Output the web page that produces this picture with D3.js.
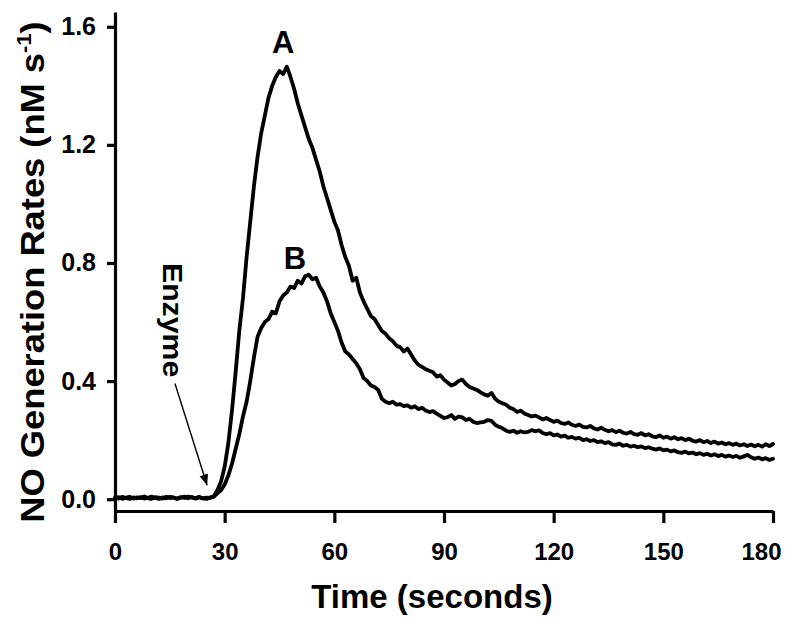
<!DOCTYPE html>
<html>
<head>
<meta charset="utf-8">
<script src="https://cdn.jsdelivr.net/npm/d3@7"></script>
<style>
  body { margin: 0; background: #fff; }
  text { font-family: "Liberation Sans", Arial, sans-serif; font-weight: bold; fill: #000; }
</style>
</head>
<body>
<div id="chart"></div>
<script>
// time axis, one reading per second
const xTicks = [0, 30, 60, 90, 120, 150, 180]
const yTicks = [0.0, 0.4, 0.8, 1.2, 1.6]

// trace A (nM/s), t = 0..180
const traceA = [
  0.005, 0.002, 0.008, 0.004, 0.001, 0.006, 0.003, 0.007, 0.002, 0.005,
  0.009, 0.004, 0.001, 0.006, 0.003, 0.008, 0.005, 0.002, 0.007, 0.004,
  0.009, 0.006, 0.003, 0.008, 0.002, 0.005, 0.004, 0.010, 0.03, 0.06,
  0.11, 0.19, 0.30, 0.43, 0.57, 0.68, 0.82, 0.94, 1.06, 1.16,
  1.24, 1.30, 1.36, 1.40, 1.43, 1.45, 1.44, 1.465, 1.43, 1.39,
  1.34, 1.30, 1.26, 1.22, 1.19, 1.15, 1.11, 1.06, 1.02, 0.98,
  0.94, 0.91, 0.86, 0.82, 0.79, 0.74, 0.75, 0.70, 0.67, 0.645,
  0.62, 0.61, 0.59, 0.57, 0.56, 0.545, 0.535, 0.52, 0.515, 0.50,
  0.51, 0.49, 0.47, 0.455, 0.448, 0.44, 0.435, 0.43, 0.415, 0.42,
  0.405, 0.395, 0.385, 0.39, 0.40, 0.405, 0.39, 0.38, 0.375, 0.37,
  0.362, 0.355, 0.35, 0.36, 0.34, 0.33, 0.325, 0.32, 0.31, 0.305,
  0.295, 0.30, 0.29, 0.285, 0.28, 0.283, 0.277, 0.27, 0.275, 0.268,
  0.262, 0.266, 0.258, 0.255, 0.26, 0.252, 0.248, 0.253, 0.245, 0.243,
  0.248, 0.24, 0.236, 0.242, 0.235, 0.23, 0.234, 0.227, 0.232, 0.225,
  0.222, 0.228, 0.22, 0.218, 0.224, 0.216, 0.22, 0.213, 0.21, 0.216,
  0.208, 0.212, 0.205, 0.21, 0.203, 0.207, 0.2, 0.205, 0.198, 0.195,
  0.2, 0.193, 0.197, 0.19, 0.195, 0.188, 0.192, 0.186, 0.19, 0.184,
  0.188, 0.182, 0.186, 0.18, 0.185, 0.179, 0.184, 0.178, 0.186, 0.18,
  0.187
]

// trace B (nM/s), t = 0..180
const traceB = [
  0.003, 0.007, 0.001, 0.005, 0.008, 0.002, 0.006, 0.004, 0.009, 0.003,
  0.001, 0.007, 0.005, 0.002, 0.008, 0.004, 0.006, 0.001, 0.005, 0.009,
  0.003, 0.007, 0.002, 0.006, 0.004, 0.001, 0.006, 0.008, 0.02, 0.03,
  0.05, 0.08, 0.12, 0.17, 0.22, 0.28, 0.33, 0.40, 0.48, 0.55,
  0.58, 0.60, 0.61, 0.635, 0.63, 0.67, 0.69, 0.70, 0.72, 0.715,
  0.74, 0.73, 0.755, 0.76, 0.745, 0.75, 0.72, 0.70, 0.67, 0.63,
  0.60, 0.57, 0.53, 0.50, 0.49, 0.475, 0.46, 0.44, 0.41, 0.40,
  0.385, 0.38, 0.37, 0.34, 0.33, 0.325, 0.33, 0.32, 0.322, 0.315,
  0.318, 0.31, 0.315, 0.305, 0.31, 0.30, 0.295, 0.298, 0.29, 0.282,
  0.275, 0.278, 0.285, 0.272, 0.28, 0.277, 0.268, 0.272, 0.262, 0.258,
  0.26, 0.262, 0.268, 0.265, 0.252, 0.245, 0.24, 0.232, 0.228, 0.232,
  0.225, 0.23, 0.226, 0.228, 0.234, 0.23, 0.233, 0.224, 0.22, 0.224,
  0.216, 0.219, 0.212, 0.215, 0.208, 0.211, 0.205, 0.208, 0.2, 0.203,
  0.197, 0.2, 0.193, 0.196, 0.19, 0.193, 0.186, 0.184, 0.188, 0.181,
  0.184, 0.178, 0.181, 0.176, 0.179, 0.173, 0.176, 0.171, 0.168, 0.172,
  0.165, 0.168, 0.162, 0.165, 0.159, 0.157, 0.161, 0.155, 0.158, 0.152,
  0.156, 0.15, 0.154, 0.148, 0.152, 0.146, 0.15, 0.144, 0.148, 0.143,
  0.147, 0.14, 0.145, 0.15, 0.142, 0.137, 0.141, 0.135, 0.139, 0.133,
  0.137
]

// annotations in data units
const labels = [
  {text: "A", t: 46, v: 1.512},
  {text: "B", t: 49.2, v: 0.778}
]
const enzyme = {text: "Enzyme", t: 13.0, v: 0.80}
const arrow = {from: [16.4, 0.392], to: [25.2, 0.047]}

const width = 800, height = 624

const svg = d3.select("#chart").append("svg")
    .attr("width", width)
    .attr("height", height)

const x = d3.scaleLinear().domain([0, 180]).range([115, 773])
const y = d3.scaleLinear().domain([-0.04, 1.65]).range([511, 12])

// axes
const xAxis = svg.append("g")
    .attr("transform", "translate(0,511)")
    .call(d3.axisBottom(x).tickValues(xTicks).tickSize(12).tickSizeOuter(0).tickPadding(20))
xAxis.selectAll("text")
    .attr("font-size", 24)
    .attr("dx", d => d === 180 ? -12 : 0)

const yAxis = svg.append("g")
    .attr("transform", "translate(115,0)")
    .call(d3.axisLeft(y).tickValues(yTicks).tickSize(8).tickSizeOuter(0).tickPadding(11)
        .tickFormat(d3.format(".1f")))
yAxis.selectAll("text").attr("font-size", 25)

svg.selectAll(".domain, .tick line")
    .attr("stroke", "#000")
    .attr("stroke-width", 3.2)
svg.selectAll(".tick text").attr("fill", "#000")

// traces
const line = d3.line()
    .x((d, i) => x(i))
    .y(d => y(d))

for (const trace of [traceB, traceA]) {
    svg.append("path")
        .datum(trace)
        .attr("d", line)
        .attr("fill", "none")
        .attr("stroke", "#000")
        .attr("stroke-width", 3.8)
        .attr("stroke-linejoin", "round")
        .attr("stroke-linecap", "round")
}

// curve labels
svg.selectAll(".curve-label")
    .data(labels)
    .enter().append("text")
    .attr("class", "curve-label")
    .attr("x", d => x(d.t))
    .attr("y", d => y(d.v))
    .attr("text-anchor", "middle")
    .attr("font-size", 31)
    .text(d => d.text)

// enzyme annotation
svg.append("text")
    .attr("transform", `translate(${x(enzyme.t)},${y(enzyme.v)}) rotate(90) scale(1.08,1)`)
    .attr("font-size", 28)
    .text(enzyme.text)

svg.append("defs").append("marker")
    .attr("id", "head")
    .attr("viewBox", "0 0 10 10")
    .attr("refX", 10)
    .attr("refY", 5)
    .attr("markerWidth", 11)
    .attr("markerHeight", 11)
    .attr("markerUnits", "userSpaceOnUse")
    .attr("orient", "auto")
  .append("path")
    .attr("d", "M0,1 L10,5 L0,9 Z")
    .attr("fill", "#000")

svg.append("line")
    .attr("x1", x(arrow.from[0]))
    .attr("y1", y(arrow.from[1]))
    .attr("x2", x(arrow.to[0]))
    .attr("y2", y(arrow.to[1]))
    .attr("stroke", "#000")
    .attr("stroke-width", 1.4)
    .attr("marker-end", "url(#head)")

// axis titles
svg.append("text")
    .attr("x", 432)
    .attr("y", 608)
    .attr("text-anchor", "middle")
    .attr("font-size", 33)
    .text("Time (seconds)")

const yTitle = svg.append("text")
    .attr("transform", "translate(44,272) rotate(-90) scale(1.1,1)")
    .attr("text-anchor", "middle")
    .attr("font-size", 33)
yTitle.append("tspan").text("NO Generation Rates (nM s")
yTitle.append("tspan").attr("font-size", 20).attr("dy", -13).text("-1")
yTitle.append("tspan").attr("dy", 13).text(")")
</script>
</body>
</html>
